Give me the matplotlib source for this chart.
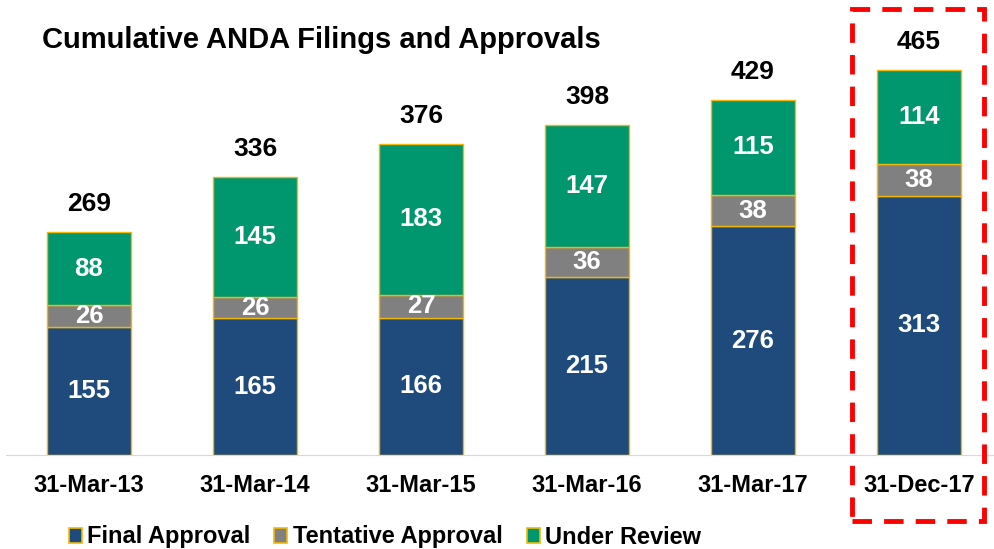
import numpy as np
import matplotlib.pyplot as plt
from matplotlib.patches import Rectangle, Patch

plt.rcParams['font.family'] = ['Liberation Sans', 'DejaVu Sans']

# data
dates = ['31-Mar-13', '31-Mar-14', '31-Mar-15', '31-Mar-16', '31-Mar-17', '31-Dec-17']
final_approval = [155, 165, 166, 215, 276, 313]
tentative_approval = [26, 26, 27, 36, 38, 38]
under_review = [88, 145, 183, 147, 115, 114]
totals = [269, 336, 376, 398, 429, 465]

navy = '#1F4A7C'
grey = '#808080'
green = '#00966E'
edge = '#F2B705'

fig = plt.figure(figsize=(9.95, 5.49), dpi=100)
ax = fig.add_axes([6 / 995, 94 / 549, 989 / 995, 455 / 549])

x = np.arange(len(dates))
w = 0.506
fa = np.array(final_approval)
ta = np.array(tentative_approval)
ur = np.array(under_review)

ax.bar(x, fa, w, color=navy, edgecolor=edge, linewidth=1, label='Final Approval')
ax.bar(x, ta, w, bottom=fa, color=grey, edgecolor=edge, linewidth=1, label='Tentative Approval')
ax.bar(x, ur, w, bottom=fa + ta, color=green, edgecolor=edge, linewidth=1, label='Under Review')

for i in range(len(dates)):
    ax.text(x[i], fa[i] / 2, str(fa[i]), ha='center', va='center', color='white',
            fontsize=18.5, fontweight='bold')
    ax.text(x[i], fa[i] + ta[i] / 2, str(ta[i]), ha='center', va='center', color='white',
            fontsize=18.5, fontweight='bold')
    ax.text(x[i], fa[i] + ta[i] + ur[i] / 2, str(ur[i]), ha='center', va='center', color='white',
            fontsize=18.5, fontweight='bold')
    ax.text(x[i], totals[i] + 34, str(totals[i]), ha='center', va='center', color='black',
            fontsize=19, fontweight='bold')

ax.set_xlim(-0.5, 5.458)
ax.set_ylim(0, 549.5)
ax.set_xticks(x)
ax.set_xticklabels(dates, fontsize=17, fontweight='bold')
ax.tick_params(axis='x', length=0, pad=14)
ax.set_yticks([])
for s in ['top', 'right', 'left']:
    ax.spines[s].set_visible(False)
ax.spines['bottom'].set_color('#D9D9D9')
ax.patch.set_alpha(0)

fig.text(42 / 995, 1 - 40 / 549, 'Cumulative ANDA Filings and Approvals', fontsize=21,
         fontweight='bold', va='center', ha='left')

handles = [Patch(facecolor=navy, edgecolor=edge, linewidth=1.2, label='Final Approval'),
           Patch(facecolor=grey, edgecolor=edge, linewidth=1.2, label='Tentative Approval'),
           Patch(facecolor=green, edgecolor=edge, linewidth=1.2, label='Under Review')]
fig.legend(handles=handles, loc='center left', bbox_to_anchor=(52 / 995, 1 - 537 / 549),
           ncol=3, frameon=False, handlelength=0.55, handleheight=0.6, handletextpad=0.25,
           columnspacing=1.0, borderpad=0.2,
           prop={'weight': 'bold', 'size': 17})

# highlight box around last period
fig.patches.append(Rectangle((852 / 995, 1 - 521 / 549), 132 / 995, 512 / 549,
                             transform=fig.transFigure, fill=False, edgecolor='#FF0000',
                             linewidth=3.5, linestyle=(0, (4, 2.5))))

fig.savefig('out.png', dpi=100)
